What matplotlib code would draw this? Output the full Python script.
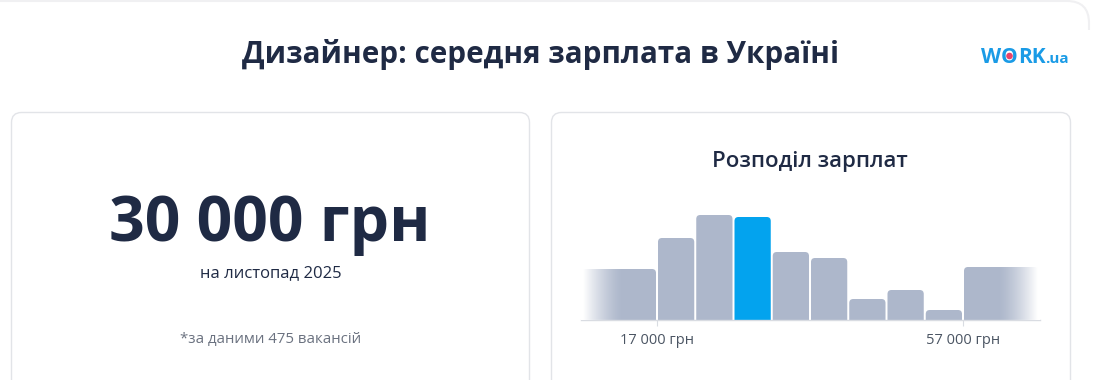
import numpy as np
import matplotlib
matplotlib.use("Agg")
import matplotlib.pyplot as plt
from matplotlib.patches import FancyBboxPatch, Circle, Rectangle

plt.rcParams['font.family'] = ['Open Sans', 'DejaVu Sans']

# дані гістограми (межі кошиків, грн) і відносні висоти стовпців
bin_left = [7000, 17000, 22000, 27000, 32000, 37000, 42000, 47000, 52000, 57000]
bin_right = [17000, 22000, 27000, 32000, 37000, 42000, 47000, 52000, 57000, 67000]
bar_vals = [51, 82, 105, 103, 68, 62, 21, 30, 10, 53]
median_bin = 3
tick_vals = [17000, 57000]
tick_labels = ['17 000 грн', '57 000 грн']

title = 'Дизайнер: середня зарплата в Україні'
big_value = '30 000 грн'
period = 'на листопад 2025'
footnote = '*за даними 475 вакансій'
dist_title = 'Розподіл зарплат'

W, H = 1094, 380
DARK = '#1f2a44'
GRAY_BAR = '#adb7cb'
BLUE = '#03a3ee'

fig = plt.figure(figsize=(W / 100, H / 100), dpi=100)
fig.patch.set_facecolor('white')

# фонове полотно в пікселях (y вниз)
bg = fig.add_axes([0, 0, 1, 1])
bg.set_xlim(0, W)
bg.set_ylim(H, 0)
bg.axis('off')


def card(x0, y0, x1, y1, r=10, ec='#e2e4e8', lw=1.0):
    p = FancyBboxPatch((x0, y0), x1 - x0, y1 - y0,
                       boxstyle='round,pad=0,rounding_size=%d' % r,
                       fc='white', ec=ec, lw=lw)
    bg.add_patch(p)


# зовнішня картка: видно лише верхній край
card(-30, 1, 1089, 420, r=22, ec='#f0f0f2', lw=1.5)
bg.add_patch(Rectangle((1075, 30), 30, 400, fc='white', ec='none'))
card(11.5, 112.5, 529.5, 420)
card(551.5, 112.5, 1070.5, 420)

bg.text(540, 55, title, ha='center', va='center', fontsize=21.3,
        fontweight='bold', color=DARK)

# логотип
renderer = fig.canvas.get_renderer()
x = 981
parts = [('W', 15), ('O', 15), ('RK', 15), ('.ua', 11)]
inv = bg.transData.inverted()
o_center = None
for txt, fs in parts:
    t = bg.text(x, 63, txt, ha='left', va='baseline', fontsize=fs,
                fontweight='bold', color='#1a9be6')
    bb = t.get_window_extent(renderer)
    (bx0, by0), (bx1, by1) = inv.transform([[bb.x0, bb.y0], [bb.x1, bb.y1]])
    if txt == 'O':
        o_center = ((bx0 + bx1) / 2, 56)
    x = bx1
bg.add_patch(Circle(o_center, 2.6, color='#e8436a', zorder=5))

# ліва картка
bg.text(270, 224, big_value, ha='center', va='center', fontsize=45,
        fontweight='bold', color=DARK)
bg.text(271, 273, period, ha='center', va='center', fontsize=12, color=DARK)
bg.text(271, 339, footnote, ha='center', va='center', fontsize=10.8,
        color='#6b7280')

# права картка
bg.text(810, 161, dist_title, ha='center', va='center', fontsize=15.9,
        fontweight='semibold', color=DARK)

# гістограма
ax_x0, ax_x1, ax_y0, ax_y1 = 580.5, 1039.5, 200, 320
ax = fig.add_axes([ax_x0 / W, 1 - ax_y1 / H, (ax_x1 - ax_x0) / W,
                   (ax_y1 - ax_y0) / H])
ax.patch.set_alpha(0)
for s in ['top', 'right', 'left']:
    ax.spines[s].set_visible(False)
ax.spines['bottom'].set_color('#d9dce2')
ax.spines['bottom'].set_linewidth(1)
ax.set_yticks([])
ax.set_xticks(tick_vals)
ax.set_xticklabels(tick_labels)
ax.tick_params(axis='x', length=4, width=0.8, color='#d9dce2',
               labelsize=10.5, labelcolor='#4b5563', pad=5)

px_x = 60000 / (ax_x1 - ax_x0)  # грн на піксель
px_y = 120 / (ax_y1 - ax_y0)
gap = 2 * px_x
for i, (l, r, v) in enumerate(zip(bin_left, bin_right, bar_vals)):
    col = BLUE if i == median_bin else GRAY_BAR
    p = FancyBboxPatch((l + gap / 2, -5), (r - l) - gap, v + 5,
                       boxstyle='round,pad=0,rounding_size=%f' % (4 * px_x),
                       mutation_aspect=px_y / px_x, fc=col, ec='none',
                       clip_on=True, zorder=2)
    ax.add_patch(p)

# плавне згасання крайніх стовпців
fade_w = 42 * px_x
grad = np.zeros((1, 256, 4))
grad[..., :3] = 1.0
s = np.linspace(0, 1, 256)
grad[0, :, 3] = np.clip(1 - (s - 0.08) / 0.92, 0, 1) ** 1.4
ax.imshow(grad, extent=[7000 - px_x, 7000 + fade_w, 0, 120], aspect='auto',
          zorder=3, interpolation='bilinear')
ax.imshow(grad[:, ::-1], extent=[67000 - fade_w, 67000 + px_x, 0, 120],
          aspect='auto', zorder=3, interpolation='bilinear')
ax.set_xlim(7000, 67000)
ax.set_ylim(0, 120)

fig.savefig('out.png', dpi=100, facecolor='white')
